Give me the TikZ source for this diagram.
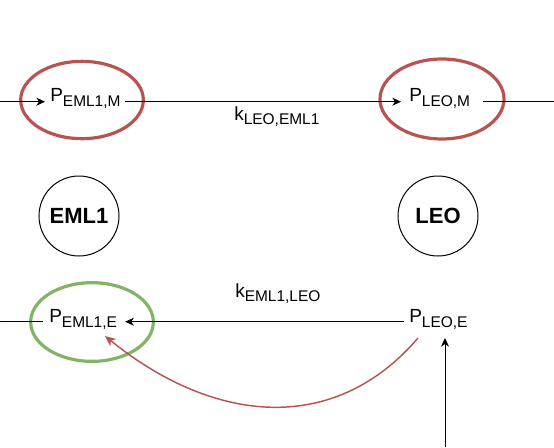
\documentclass[tikz,border=0pt]{standalone}
\usepackage{fontspec}
\setmainfont{Liberation Sans}
\usetikzlibrary{arrows.meta,shapes.geometric}
\definecolor{dred}{HTML}{B85450}
\definecolor{dgreen}{HTML}{82B366}
\newcommand{\mylab}[3]{\fontsize{14.25pt}{16pt}\selectfont #1\raisebox{-#3}{\fontsize{11.6pt}{13pt}\selectfont #2}}
\begin{document}
\begin{tikzpicture}[x=0.75pt,y=-0.75pt,
  arr/.style={-{Stealth[length=6.5pt,width=6pt,inset=2pt]},line width=0.75pt},
  plain/.style={line width=0.75pt},
  lab/.style={anchor=base west,inner sep=0pt,text=black},
  redell/.style={draw=dred,line width=2.4pt,ellipse,inner sep=0pt},
  greenell/.style={draw=dgreen,line width=2.4pt,ellipse,inner sep=0pt},
  body/.style={draw,circle,line width=0.75pt,minimum size=60pt,inner sep=0pt,font=\fontsize{16.5pt}{18pt}\selectfont\bfseries}]
\useasboundingbox (0,0) rectangle (554,447);
% ellipses
\node[redell,minimum width=92pt,minimum height=58pt] (e1) at (82,100) {};
\node[redell,minimum width=93pt,minimum height=60pt] (e2) at (442,99) {};
\node[greenell,minimum width=92pt,minimum height=59pt] (e3) at (92,322) {};
% bodies
\node[body] (eml) at (79,216) {EML1};
\node[body] (leo) at (438,216) {LEO};
% labels
\node[lab] (pemM) at (50,101) {\mylab{P}{EML1,M}{3.75pt}};
\node[lab] (pleoM) at (409,101) {\mylab{P}{LEO,M}{3.75pt}};
\node[lab] (pemE) at (49,322) {\mylab{P}{EML1,E}{3.75pt}};
\node[lab] (pleoE) at (409,322) {\mylab{P}{LEO,E}{3.75pt}};
\node[lab] (k1) at (234,120) {\mylab{k}{LEO,EML1}{3pt}};
\node[lab] (k2) at (235,297) {\mylab{k}{EML1,LEO}{3pt}};
% coordinates
\coordinate (tl) at (0,101.7);
\coordinate (tr) at (554,101.7);
\coordinate (bl) at (0,321.7);
\coordinate (cs) at (418,338);
\coordinate (ce) at (105,336);
\coordinate (vb) at (445,447);
\coordinate (vt) at (445,338);
% connectors
\draw[arr] (tl) -- ([xshift=-5*0.75pt]pemM.base west |- tl);
\draw[arr] ([xshift=4*0.75pt]pemM.base east |- tl) -- ([xshift=-8*0.75pt]pleoM.base west |- tl);
\draw[plain] ([xshift=13*0.75pt]pleoM.base east |- tr) -- (tr);
\draw[plain] (bl) -- ([xshift=-6*0.75pt]pemE.base west |- bl);
\draw[arr] ([xshift=-5*0.75pt]pleoE.base west |- bl) -- ([xshift=8*0.75pt]pemE.base east |- bl);
\draw[-{Stealth[length=8pt,width=7pt,inset=2.5pt]},draw=dred,line width=1.1pt] (cs) .. controls (335,435) and (215,425) .. (ce);
\draw[arr] (vb) -- (vt);
\end{tikzpicture}
\end{document}
